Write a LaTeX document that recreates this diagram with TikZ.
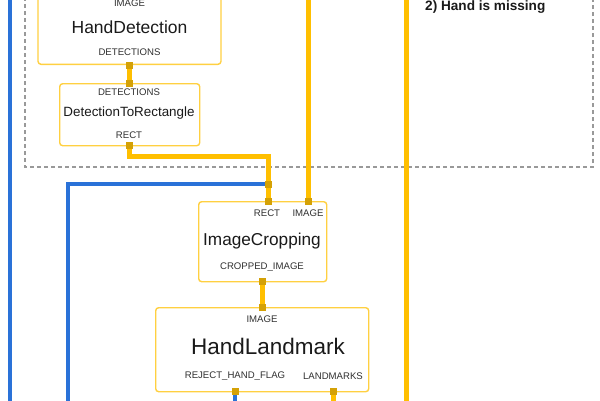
\documentclass[tikz,border=0pt]{standalone}
\usepackage{fontspec}
\setmainfont{Liberation Sans}
\begin{document}
\begin{tikzpicture}[x=1pt,y=-1pt,
  box/.style={draw=boxc, line width=1.4pt, rounded corners=3pt, fill=white, inner sep=0pt},
  ylink/.style={draw=linec, line width=5pt},
  blink/.style={draw=bluec, line width=4.5pt},
  port/.style={rectangle, fill=portc, minimum size=7pt, inner sep=0pt},
  tag/.style={text=txtc, font=\fontsize{9.6}{10}\selectfont, inner sep=0pt},
  title/.style={text=titc, inner sep=0pt},
  group/.style={draw=grayc, line width=1.1pt, dash pattern=on 4pt off 3pt}]
\definecolor{boxc}{HTML}{FFD041}
\definecolor{linec}{HTML}{FFBF00}
\definecolor{portc}{HTML}{D4A106}
\definecolor{bluec}{HTML}{2A72D8}
\definecolor{grayc}{HTML}{999999}
\definecolor{txtc}{HTML}{303030}
\definecolor{titc}{HTML}{1A1A1A}
\useasboundingbox (0,0) rectangle (600,400);
\clip (0,0) rectangle (600,400);

% dashed group
\draw[group] (25,-10) -- (25,167) -- (593,167) -- (593,-10);

% boxes
\node[box, minimum width=183pt, minimum height=90pt, anchor=south] (hd) at (129.5,65) {};
\node[box, minimum width=140pt, minimum height=62pt, anchor=north west] (dtr) at (59,83) {};
\node[box, minimum width=128pt, minimum height=80pt, anchor=north west] (ic) at (198,201) {};
\node[box, minimum width=213pt, minimum height=84pt, anchor=north west] (hl) at (155,307) {};

% port positions
\coordinate (hdout) at (129,65);
\coordinate (dtrin) at (129,83);
\coordinate (dtrout) at (129,145);
\coordinate (icrect) at (268,201);
\coordinate (icimg) at (308,201);
\coordinate (join) at (268,184);
\coordinate (icout) at (262,281);
\coordinate (hlin) at (262,307);
\coordinate (hlflag) at (235,391);
\coordinate (hllm) at (333,391);
\coordinate (bendA) at (129,156);
\coordinate (bendB) at (268,156);
\coordinate (bcorner) at (68,184);
\coordinate (bend) at (68,405);
\coordinate (ltop) at (10,-5);
\coordinate (lbot) at (10,405);
\coordinate (imgtop) at (308,-5);
\coordinate (rtop) at (406,-5);
\coordinate (rbot) at (406,405);
\coordinate (flagend) at (235,405);
\coordinate (lmend) at (333,405);

% connectors
\draw[blink] (ltop) -- (lbot);
\draw[blink] (join) -- (bcorner) -- (bend);
\draw[blink] (hlflag) -- (flagend);
\draw[ylink] (hdout) -- (dtrin);
\draw[ylink] (dtrout) -- (bendA) -- (bendB) -- (icrect);
\draw[ylink] (imgtop) -- (icimg);
\draw[ylink] (rtop) -- (rbot);
\draw[ylink] (icout) -- (hlin);
\draw[ylink] (hllm) -- (lmend);

% ports
\foreach \p in {hdout,dtrin,dtrout,icrect,icimg,join,icout,hlin,hlflag,hllm}
  \node[port] (p-\p) at (\p) {};

% texts
\node[tag] (hdimg) at (129.5,3) {IMAGE};
\node[title, font=\fontsize{17.5}{18}\selectfont] (hdt) at (129.5,27) {HandDetection};
\node[tag] (hddet) at (129.5,52) {DETECTIONS};

\node[tag] (dtrdet) at (129,92) {DETECTIONS};
\node[title, font=\fontsize{13.4}{14}\selectfont] (dtrt) at (129,113) {DetectionToRectangle};
\node[tag] (dtrrect) at (129,135) {RECT};

\node[tag] (icr) at (267,213) {RECT};
\node[tag] (ici) at (308,213) {IMAGE};
\node[title, font=\fontsize{17.2}{18}\selectfont] (ict) at (262,241) {ImageCropping};
\node[tag] (icc) at (262,267) {CROPPED\_IMAGE};

\node[tag] (hli) at (262,319) {IMAGE};
\node[title, font=\fontsize{22.5}{24}\selectfont] (hlt) at (268,346) {HandLandmark};
\node[tag] (hlf) at (235,376) {REJECT\_HAND\_FLAG};
\node[tag] (hlm) at (333,376) {LANDMARKS};

\node[title, font=\bfseries\fontsize{13.6}{14}\selectfont, anchor=west] (miss) at (425,7) {2) Hand is missing};
\end{tikzpicture}
\end{document}
